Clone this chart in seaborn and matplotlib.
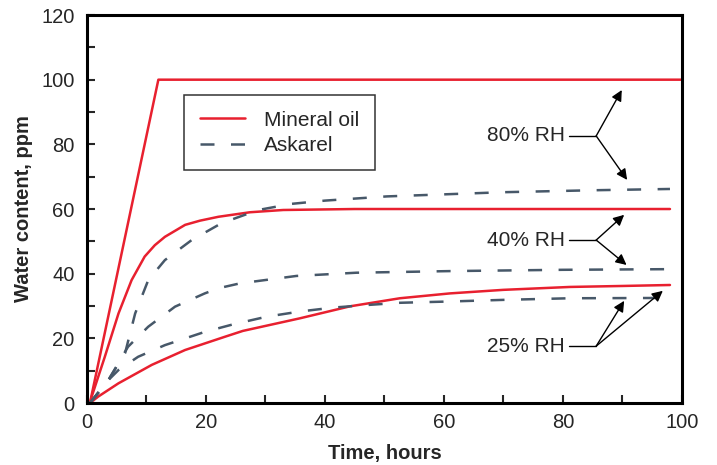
import numpy as np
import pandas as pd
import seaborn as sns
import matplotlib.pyplot as plt
from matplotlib.ticker import MultipleLocator

# curves (hours, ppm)
min80_x = [0.5, 12, 100]
min80_y = [0, 100, 100]
min40_x = [0.5, 0.8, 3.0, 5.3, 7.5, 9.7, 11.4, 13.1, 16.5, 19, 22.1, 27.4, 33, 45, 60, 80, 98]
min40_y = [0, 2, 14.3, 27.7, 38, 45.3, 48.8, 51.4, 55.1, 56.4, 57.6, 59, 59.7, 60, 60, 60, 60]
min25_x = [0.5, 1.9, 5.3, 10.9, 16.5, 23.2, 26.2, 35.8, 44.2, 52.6, 61, 70, 81.2, 90, 98]
min25_y = [0, 2, 6.1, 11.8, 16.4, 20.5, 22.3, 26.2, 29.9, 32.4, 33.9, 35, 35.9, 36.2, 36.5]
ask80_x = [0.5, 3.6, 6.4, 8.1, 10.3, 13.1, 17.6, 22.6, 28.8, 34.4, 40, 50.4, 61, 70, 85, 98]
ask80_y = [0, 7.1, 15.4, 27.7, 38, 44.2, 50.4, 55.6, 59.7, 61.6, 62.6, 63.9, 64.6, 65.2, 65.8, 66.2]
ask40_x = [0.5, 3.6, 6.9, 10.3, 14.8, 19.8, 22.1, 25.7, 35.2, 45.3, 61, 80, 98]
ask40_y = [0, 7.1, 17.4, 23.6, 29.8, 33.9, 35.5, 37, 39.3, 40.3, 40.8, 41.2, 41.4]
ask25_x = [0.5, 3.6, 5.3, 8.6, 13.1, 19.8, 24.5, 30.2, 35.8, 41.3, 47, 52.6, 61, 70, 81.2, 98]
ask25_y = [0, 7.1, 10.2, 14.3, 17.9, 22, 24.3, 26.7, 28.3, 29.5, 30.3, 31, 31.4, 31.9, 32.4, 32.5]

red = '#e8202f'
grey = '#475869'

sns.set_style('white')
plt.rcParams['font.family'] = ['Liberation Sans', 'DejaVu Sans']

fig = plt.figure(figsize=(7.17, 4.65), dpi=100)
ax = fig.add_axes([0.1213, 0.1333, 0.8297, 0.8344])

for xs, ys, lab in [(min80_x, min80_y, 'Mineral oil'), (min40_x, min40_y, None), (min25_x, min25_y, None)]:
    sns.lineplot(x=xs, y=ys, color=red, lw=1.8, ax=ax, label=lab, sort=False, estimator=None)
for xs, ys, lab in [(ask80_x, ask80_y, 'Askarel'), (ask40_x, ask40_y, None), (ask25_x, ask25_y, None)]:
    sns.lineplot(x=xs, y=ys, color=grey, lw=1.8, ax=ax, label=lab, sort=False, estimator=None)
# long dashes for askarel
for ln in ax.lines[3:]:
    ln.set_dashes((5.6, 6.6))

ax.set_xlim(0, 100)
ax.set_ylim(0, 120)
ax.xaxis.set_major_locator(MultipleLocator(20))
ax.yaxis.set_major_locator(MultipleLocator(20))
ax.xaxis.set_minor_locator(MultipleLocator(10))
ax.yaxis.set_minor_locator(MultipleLocator(10))
ax.tick_params(which='both', direction='in', length=6, width=1.5, labelsize=14.5,
               bottom=True, left=True, top=False, right=False)
ax.tick_params(axis='y', pad=9)
ax.tick_params(axis='x', pad=7)
for s in ax.spines.values():
    s.set_linewidth(2.2)
    s.set_color('black')
ax.set_xlabel('Time, hours', fontsize=14.5, fontweight='bold', labelpad=9)
ax.set_ylabel('Water content, ppm', fontsize=14.5, fontweight='bold', labelpad=6)

leg = ax.legend(loc='upper left', bbox_to_anchor=(0.163, 0.794), borderaxespad=0,
                frameon=True, fancybox=False, edgecolor='black', fontsize=15,
                handlelength=2.2, borderpad=0.75, labelspacing=0.3, handletextpad=0.9)
leg.get_frame().set_linewidth(1.1)

# RH annotations
groups = [
    ('80% RH', (85.6, 82.6), [(89.9, 96.8), (90.8, 69)]),
    ('40% RH', (85.6, 50.4), [(90.3, 58.2), (90.7, 42.7)]),
    ('25% RH', (85.6, 17.6), [(90.3, 31.6), (96.8, 34.7)]),
]
for txt, (bx, by), tips in groups:
    ax.text(80.3, by, txt, ha='right', va='center', fontsize=15)
    ax.plot([81.1, bx], [by, by], color='black', lw=1)
    for tx, ty in tips:
        ax.annotate('', xy=(tx, ty), xytext=(bx, by),
                    arrowprops=dict(arrowstyle='-|>', color='black', lw=1,
                                    mutation_scale=16, shrinkA=0, shrinkB=0))

fig.savefig('out.png', dpi=100)
